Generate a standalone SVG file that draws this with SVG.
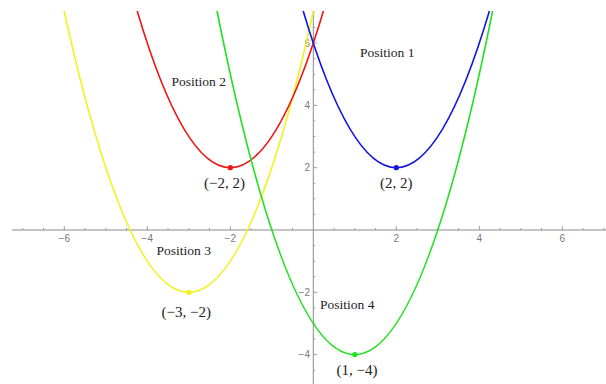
<svg xmlns="http://www.w3.org/2000/svg" width="606" height="384" viewBox="0 0 606 384">
<style>
.axis{stroke:#8a8a8a;stroke-width:1;fill:none}
.tick{stroke:#8a8a8a;stroke-width:0.8;fill:none}
.tl{font-family:"Liberation Sans",Arial,sans-serif;font-size:10px;fill:#777}
.curve{fill:none;stroke-width:1.6}
.pos{font-family:"Liberation Serif","Times New Roman",serif;font-size:13.5px;fill:#222}
.coord{font-family:"Liberation Serif","Times New Roman",serif;font-size:15px;fill:#222}
</style>
<rect width="606" height="384" fill="#fff"/>
<g id="axes">
<line class="axis" x1="12" y1="230" x2="606" y2="230"/>
<line class="axis" x1="313.3" y1="11" x2="313.3" y2="384"/>
<path class="tick" d="M22.8 230v-2M43.55 230v-2M85.05 230v-2M105.8 230v-2M126.55 230v-2M168.05 230v-2M188.8 230v-2M209.55 230v-2M251.05 230v-2M271.8 230v-2M292.55 230v-2M334.05 230v-2M354.8 230v-2M375.55 230v-2M417.05 230v-2M437.8 230v-2M458.55 230v-2M500.05 230v-2M520.8 230v-2M541.55 230v-2M583.05 230v-2M603.8 230v-2"/>
<path class="tick" d="M64.3 230v-4M147.3 230v-4M230.3 230v-4M396.3 230v-4M479.3 230v-4M562.3 230v-4"/>
<path class="tick" d="M313.3 370.2h2M313.3 339.1h2M313.3 323.5h2M313.3 307.9h2M313.3 276.7h2M313.3 261.2h2M313.3 245.6h2M313.3 214.4h2M313.3 198.8h2M313.3 183.3h2M313.3 152.1h2M313.3 136.5h2M313.3 120.9h2M313.3 89.8h2M313.3 74.2h2M313.3 58.6h2M313.3 27.5h2M313.3 11.9h2"/>
<path class="tick" d="M313.3 354.6h4M313.3 292.3h4M313.3 167.7h4M313.3 105.4h4M313.3 43h4"/>
<g class="tl" text-anchor="middle">
<text x="64.3" y="242">−6</text>
<text x="147.3" y="242">−4</text>
<text x="230.3" y="242">−2</text>
<text x="396.3" y="242">2</text>
<text x="479.3" y="242">4</text>
<text x="562.3" y="242">6</text>
</g>
<g class="tl" text-anchor="end">
<text x="310" y="358.2">−4</text>
<text x="310" y="295.9">−2</text>
<text x="310" y="171.3">2</text>
<text x="310" y="109">4</text>
<text x="310" y="46.6">6</text>
</g>
</g>
<g id="curves">
<path id="yellow" class="curve" stroke="#f2f21e" d="M64.1 11Q188.8 573.7 313.5 11"/>
<path id="red" class="curve" stroke="#ee1515" d="M137.2 11Q230.3 324.4 323.4 11"/>
<path id="green" class="curve" stroke="#22e022" d="M217 11Q354.8 698.3 492.6 11"/>
<path id="blue" class="curve" stroke="#1515dd" d="M303.2 11Q396.3 324.4 489.4 11"/>
</g>
<g id="vertices">
<circle cx="396.3" cy="167.7" r="2.6" fill="#1515dd"/>
<circle cx="230.3" cy="167.7" r="2.6" fill="#ee1515"/>
<circle cx="188.8" cy="292.3" r="2.6" fill="#f2f21e"/>
<circle cx="354.8" cy="354.6" r="2.6" fill="#22e022"/>
</g>
<g id="labels">
<text class="pos" x="360" y="56.5">Position 1</text>
<text class="pos" x="171.5" y="86">Position 2</text>
<text class="pos" x="156.5" y="255">Position 3</text>
<text class="pos" x="320" y="309">Position 4</text>
<text class="coord" x="380" y="188">(2, 2)</text>
<text class="coord" x="204" y="188">(−2, 2)</text>
<text class="coord" x="161.5" y="316.5">(−3, −2)</text>
<text class="coord" x="336.5" y="375">(1, −4)</text>
</g>
</svg>
